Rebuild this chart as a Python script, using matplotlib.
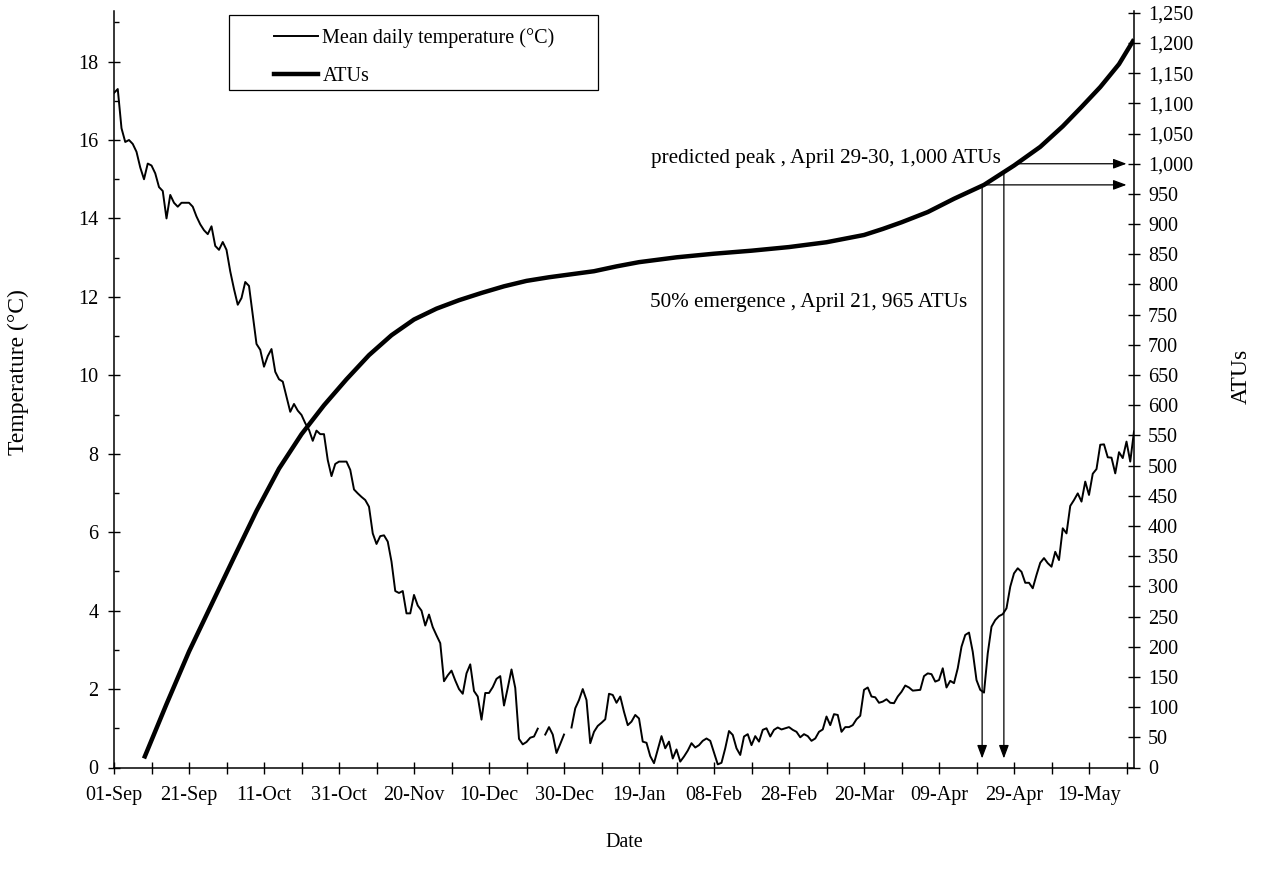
"""
Mean daily water temperature and accumulated thermal units (ATUs), Sep - May.
"""
import numpy as np
import pandas as pd
import matplotlib
matplotlib.use("Agg")
import matplotlib.pyplot as plt
import matplotlib.dates as mdates
from matplotlib.patches import Rectangle
from matplotlib.ticker import MultipleLocator, FixedLocator, FuncFormatter

plt.rcParams["font.family"] = ["Liberation Serif", "DejaVu Serif"]
plt.rcParams["font.size"] = 14.5

# ── data ──────────────────────────────────────────────────────────────────────
start = pd.Timestamp("2000-09-01")
nan = np.nan

# mean daily temperature (°C), one value per day from 01-Sep to 31-May
temp = [
    17.2, 17.3, 16.3, 15.95, 16.0, 15.9, 15.7, 15.3, 15.0, 15.4,
    15.35, 15.15, 14.8, 14.7, 14.0, 14.6, 14.4, 14.3, 14.4, 14.4,
    14.4, 14.3, 14.05, 13.85, 13.7, 13.6, 13.8, 13.3, 13.2, 13.4,
    13.2, 12.65, 12.2, 11.8, 11.97, 12.38, 12.28, 11.54, 10.8, 10.65,
    10.22, 10.49, 10.67, 10.09, 9.9, 9.84, 9.46, 9.07, 9.27, 9.1,
    8.99, 8.78, 8.61, 8.33, 8.59, 8.5, 8.5, 7.84, 7.43, 7.74,
    7.8, 7.8, 7.8, 7.59, 7.09, 6.99, 6.9, 6.82, 6.65, 5.97,
    5.7, 5.9, 5.92, 5.76, 5.25, 4.5, 4.45, 4.5, 3.93, 3.93,
    4.4, 4.13, 4.0, 3.62, 3.9, 3.58, 3.37, 3.17, 2.2, 2.35,
    2.47, 2.22, 2.0, 1.88, 2.4, 2.63, 1.95, 1.81, 1.22, 1.9,
    1.9, 2.05, 2.26, 2.33, 1.58, 2.03, 2.5, 2.03, 0.73, 0.59,
    0.65, 0.76, 0.79, 0.99, nan, 0.84, 1.03, 0.84, 0.37, 0.6,
    0.84, nan, 1.02, 1.51, 1.72, 2.0, 1.72, 0.62, 0.91, 1.06,
    1.14, 1.23, 1.88, 1.85, 1.65, 1.81, 1.42, 1.08, 1.17, 1.34,
    1.25, 0.66, 0.63, 0.29, 0.11, 0.46, 0.8, 0.49, 0.66, 0.23,
    0.46, 0.15, 0.28, 0.43, 0.62, 0.51, 0.57, 0.68, 0.74, 0.68,
    0.38, 0.08, 0.12, 0.49, 0.93, 0.83, 0.49, 0.32, 0.79, 0.85,
    0.57, 0.8, 0.66, 0.96, 1.0, 0.79, 0.96, 1.02, 0.97, 1.0,
    1.03, 0.96, 0.91, 0.77, 0.85, 0.8, 0.68, 0.74, 0.91, 0.97,
    1.3, 1.08, 1.36, 1.34, 0.91, 1.03, 1.03, 1.08, 1.23, 1.32,
    1.98, 2.04, 1.81, 1.79, 1.65, 1.68, 1.74, 1.65, 1.64, 1.81,
    1.93, 2.09, 2.04, 1.96, 1.97, 1.98, 2.33, 2.4, 2.38, 2.19,
    2.23, 2.53, 2.04, 2.21, 2.15, 2.53, 3.08, 3.38, 3.44, 2.95,
    2.23, 1.98, 1.91, 2.91, 3.59, 3.76, 3.86, 3.91, 4.06, 4.61,
    4.95, 5.08, 4.99, 4.71, 4.71, 4.57, 4.91, 5.22, 5.34, 5.21,
    5.12, 5.5, 5.29, 6.1, 5.97, 6.67, 6.82, 6.99, 6.78, 7.29,
    6.95, 7.49, 7.61, 8.23, 8.24, 7.91, 7.9, 7.5, 8.04, 7.89,
    8.31, 7.8, 8.57,
]

# accumulated thermal units, read at these days after 01-Sep
atu_day = [8, 14, 20, 26, 32, 38, 44, 50, 56, 62, 68, 74, 80, 86, 92, 98,
           104, 110, 116, 122, 128, 134, 140, 150, 160, 170, 180, 190, 200,
           205, 210, 217, 224, 232, 240, 247, 253, 258, 263, 268, 272]
atu_val = [15, 105, 192, 270, 348, 425, 495, 552, 600, 643, 683, 716, 742,
           760, 774, 786, 797, 806, 812, 817, 822, 830, 837, 845, 851, 856,
           862, 870, 882, 892, 903, 920, 942, 965, 997, 1028, 1062, 1094,
           1127, 1165, 1206]

# arrows: 50% emergence (April 21, 965 ATUs) and predicted peak (1,000 ATUs)
emerge_day, emerge_atu = 231.5, 965
peak_day, peak_atu = 237.3, 984
peak_curve_day, peak_level = 240.4, 1000

dates = pd.date_range(start, periods=len(temp), freq="D")
atu_dates = start + pd.to_timedelta(atu_day, unit="D")


def day(d):
    return start + pd.Timedelta(days=d)


# ── plot ──────────────────────────────────────────────────────────────────────
fig = plt.figure(figsize=(12.62, 8.76), dpi=100)
ax = fig.add_axes([114 / 1262, 1 - 767.5 / 876, 1020 / 1262, 756.5 / 876])
ax2 = ax.twinx()

ax.plot(dates, temp, color="black", lw=1.4, zorder=3)
ax2.plot(atu_dates, atu_val, color="black", lw=3.2, solid_capstyle="butt",
         solid_joinstyle="round", zorder=3)

ax.set_xlim(start, dates[-1])
ax.set_ylim(0, 19.29)
ax2.set_ylim(0, 1253)

# x axis: labels every 20 days, ticks every 10 days
ax.xaxis.set_major_locator(FixedLocator(
    mdates.date2num(pd.date_range(start, dates[-1], freq="20D"))))
ax.xaxis.set_minor_locator(FixedLocator(
    mdates.date2num(pd.date_range(day(10), dates[-1], freq="20D"))))
ax.xaxis.set_major_formatter(mdates.DateFormatter("%d-%b"))

ax.yaxis.set_major_locator(MultipleLocator(2))
ax.yaxis.set_minor_locator(MultipleLocator(1))
ax2.yaxis.set_major_locator(MultipleLocator(50))
ax2.yaxis.set_major_formatter(FuncFormatter(lambda v, p: f"{v:,.0f}"))

ax.tick_params(axis="x", which="both", direction="inout", length=8, width=1,
               pad=9.5)
ax.tick_params(axis="y", which="major", direction="inout", length=8.5,
               width=1, pad=7)
ax.tick_params(axis="y", which="minor", direction="in", length=3.6, width=1)
ax2.tick_params(axis="y", which="major", direction="inout", length=9,
                width=1, pad=5.5)

for a in (ax, ax2):
    a.spines["top"].set_visible(False)
    for s in a.spines.values():
        s.set_linewidth(1.1)
ax.spines["right"].set_visible(False)
ax2.spines["left"].set_visible(False)
ax2.spines["bottom"].set_visible(False)

ax.set_xlabel("Date", va="center")
ax.xaxis.set_label_coords(0.5, -0.0998)
ax.set_ylabel("Temperature (°C)", va="center", ha="center", fontsize=17)
ax.yaxis.set_label_coords(-0.094, 0.523)
ax2.set_ylabel("ATUs", va="center", ha="center", fontsize=17)
ax2.yaxis.set_label_coords(1.105, 0.5175)

# arrows
arrow = dict(arrowstyle="-|>,head_length=0.4,head_width=0.15",
             color="black", lw=0.9, shrinkA=0, shrinkB=0,
             mutation_scale=20)
for d, v in [(emerge_day, emerge_atu), (peak_day, peak_atu)]:
    ax2.annotate("", xy=(day(d), 15), xytext=(day(d), v), arrowprops=arrow)
ax2.annotate("", xy=(day(270), emerge_atu), xytext=(day(emerge_day), emerge_atu),
             arrowprops=arrow)
ax2.annotate("", xy=(day(270), peak_level), xytext=(day(peak_curve_day), peak_level),
             arrowprops=arrow)

ax2.text(day(236.4), 1008, "predicted peak , April 29-30, 1,000 ATUs",
         ha="right", va="center", fontsize=15.2)
ax2.text(day(227.6), 769.5, "50% emergence , April 21, 965 ATUs",
         ha="right", va="center", fontsize=15.2)

# legend in a wide box
ax2.add_patch(Rectangle((0.1127, 0.8956), 0.3618, 0.0991,
                        transform=ax2.transAxes, facecolor="white",
                        edgecolor="black", lw=0.9, zorder=5))
h1, = ax.plot([], [], color="black", lw=1.4)
h2, = ax.plot([], [], color="black", lw=3.2)
leg = ax2.legend([h1, h2], ["Mean daily temperature (°C)", "ATUs"],
                 loc="upper left", bbox_to_anchor=(0.147, 0.9905),
                 frameon=False, borderpad=0, handlelength=2.2,
                 handletextpad=0.2, labelspacing=0.95, fontsize=14.5)
leg.set_zorder(6)

fig.savefig("out.png", dpi=100)
